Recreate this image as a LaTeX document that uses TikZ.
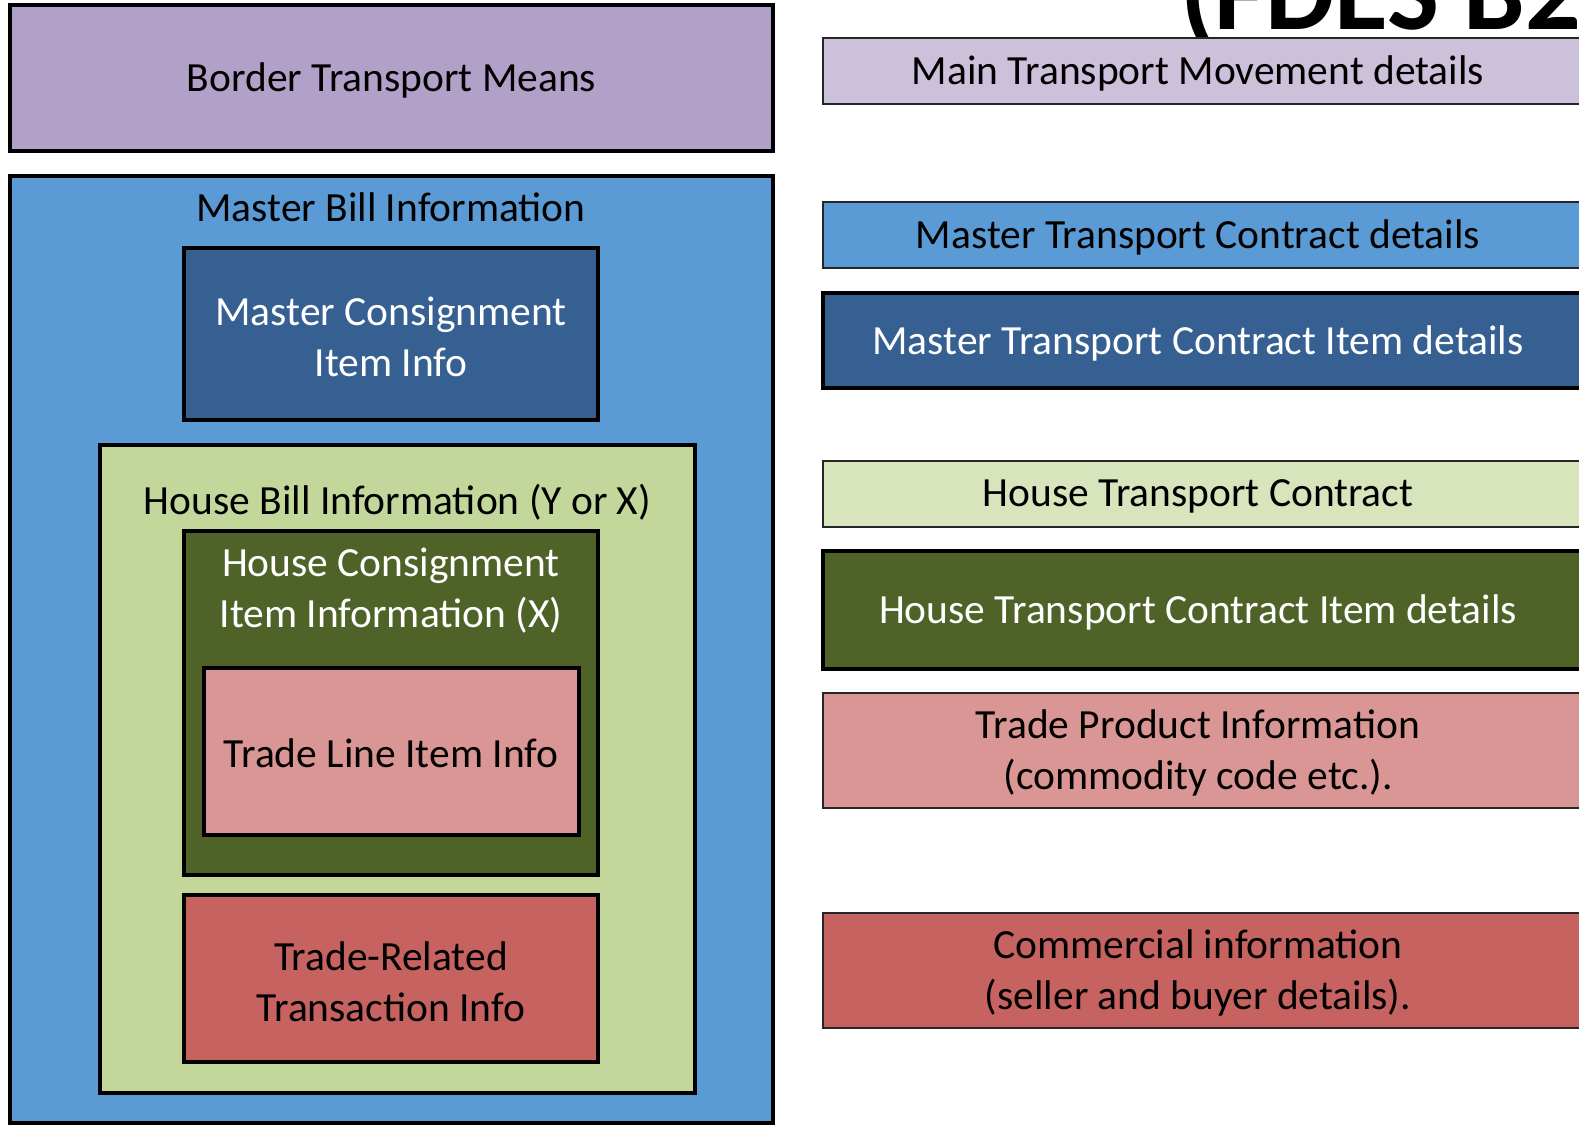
\documentclass[tikz,border=0pt]{standalone}
\usepackage{fontspec}
\setmainfont{Carlito}
\definecolor{cBTM}{HTML}{B1A0C7}
\definecolor{cMTM}{HTML}{CCC0DA}
\definecolor{cBlue}{HTML}{5B9BD5}
\definecolor{cDBlue}{HTML}{366092}
\definecolor{cLGreen}{HTML}{C4D79B}
\definecolor{cLLGreen}{HTML}{D8E4BC}
\definecolor{cDGreen}{HTML}{4F6228}
\definecolor{cPink}{HTML}{DA9694}
\definecolor{cRed}{HTML}{C6625F}
\tikzset{
  boxthick/.style={draw=black, line width=4.5pt, inner sep=0pt, outer sep=0pt, rectangle},
  boxthin/.style={draw=black!85, line width=1.8pt, inner sep=0pt, outer sep=0pt, rectangle},
  lbl/.style={font=\fontsize{41.5}{51}\selectfont, align=center, inner sep=0pt, yshift=-2pt},
  wlbl/.style={lbl, text=white},
}
\begin{document}
\begin{tikzpicture}[x=1pt,y=-1pt]
\useasboundingbox (0,0) rectangle (1579,1127);
\clip (0,0) rectangle (1579,1127);
\fill[white] (0,0) rectangle (1579,1127);
% partial title at top right
\node[anchor=base west, font=\fontsize{110}{120}\selectfont\bfseries, inner sep=0pt] (title) at (1180,29) {(FDES B2};
% left column
\node[boxthick, fill=cBTM, minimum width=763pt, minimum height=146pt] (btm) at (391.5,78) {};
\node[lbl] (btmt) at (btm.center) {Border Transport Means};
\node[boxthick, fill=cBlue, minimum width=763pt, minimum height=947pt] (mbill) at (391.5,649.5) {};
\node[lbl] (mbillt) at (391,205) {Master Bill Information};
\node[boxthick, fill=cDBlue, minimum width=414pt, minimum height=172pt] (mcons) at (391,334) {};
\node[wlbl] (mconst) at (391,335) {Master Consignment\\Item Info};
\node[boxthick, fill=cLGreen, minimum width=595pt, minimum height=648pt] (hbill) at (397.5,769) {};
\node[lbl] (hbillt) at (397.5,500) {House Bill Information (Y or X)};
\node[boxthick, fill=cDGreen, minimum width=414pt, minimum height=344pt] (hcons) at (391,703) {};
\node[wlbl] (hconst) at (391,589) {House Consignment\\Item Information (X)};
\node[boxthick, fill=cPink, minimum width=375pt, minimum height=167pt] (tline) at (391.5,751.5) {};
\node[lbl] (tlinet) at (391,751) {Trade Line Item Info};
\node[boxthick, fill=cRed, minimum width=414pt, minimum height=167pt] (trel) at (391,978.5) {};
\node[lbl] (trelt) at (391,980) {Trade-Related\\Transaction Info};
% right column
\node[boxthin, fill=cMTM, minimum width=777pt, minimum height=66pt] (mtm) at (1211.5,71) {};
\node[lbl] (mtmt) at (1198,71) {Main Transport Movement details};
\node[boxthin, fill=cBlue, minimum width=777pt, minimum height=66pt] (mtc) at (1211.5,235) {};
\node[lbl] (mtct) at (1198,235) {Master Transport Contract details};
\node[boxthick, fill=cDBlue, minimum width=777pt, minimum height=95pt] (mtci) at (1211.5,340.5) {};
\node[wlbl] (mtcit) at (1198,341) {Master Transport Contract Item details};
\node[boxthin, fill=cLLGreen, minimum width=777pt, minimum height=66pt] (htc) at (1211.5,494) {};
\node[lbl] (htct) at (1198,494) {House Transport Contract};
\node[boxthick, fill=cDGreen, minimum width=777pt, minimum height=118pt] (htci) at (1211.5,610) {};
\node[wlbl] (htcit) at (1198,610) {House Transport Contract Item details};
\node[boxthin, fill=cPink, minimum width=777pt, minimum height=115pt] (tpi) at (1211.5,750.5) {};
\node[lbl] (tpit) at (1198,751) {Trade Product Information\\(commodity code etc.).};
\node[boxthin, fill=cRed, minimum width=777pt, minimum height=115pt] (com) at (1211.5,970.5) {};
\node[lbl] (comt) at (1198,971) {Commercial information\\(seller and buyer details).};
\end{tikzpicture}
\end{document}
